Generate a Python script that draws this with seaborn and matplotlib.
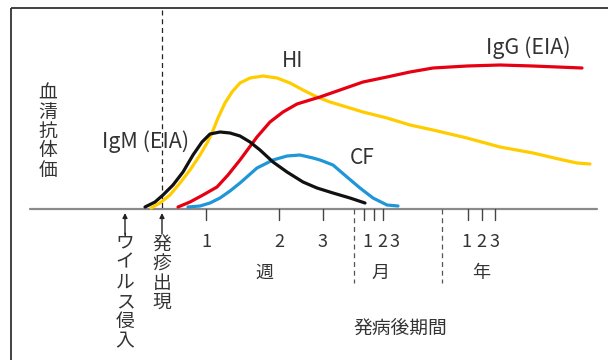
import pandas as pd
import matplotlib
matplotlib.use("Agg")
import matplotlib.pyplot as plt
import seaborn as sns

sns.set_style("white")
plt.rcParams['font.family'] = ['Noto Sans CJK JP', 'DejaVu Sans']

# curve points (x = position along time axis, y = height above baseline)
igm_x = [145, 155, 163, 173, 183, 193, 202, 210, 220, 230, 240, 250, 260, 273, 287, 303, 317, 333, 350, 365]
igm_y = [2, 7, 14, 24, 37, 54, 67, 75, 77, 76, 73, 67, 59, 47, 37, 27, 21, 16, 11, 6]

hi_x = [151, 160, 170, 180, 190, 200, 207, 212, 218, 225, 232, 240, 250, 263, 277, 290, 303, 317, 330, 340,
        363, 387, 410, 433, 467, 500, 533, 563, 577, 590]
hi_y = [1, 6, 14, 26, 39, 54, 66, 76, 91, 106, 117, 126, 131, 133, 131, 126, 119, 112, 107, 104,
        97, 91, 84, 79, 71, 62, 56, 49, 46, 45]

igg_x = [178, 190, 203, 217, 228, 240, 257, 270, 283, 297, 310, 320, 340, 363, 387, 410, 433, 467, 500, 533, 582]
igg_y = [2, 7, 14, 22, 34, 49, 72, 87, 97, 105, 109, 112, 119, 127, 132, 137, 141, 143, 144, 143, 141]

cf_x = [188, 200, 210, 220, 230, 240, 257, 273, 287, 300, 313, 320, 333, 347, 360, 373, 387, 398]
cf_y = [2, 3, 6, 11, 18, 26, 41, 49, 53, 54, 51, 49, 44, 32, 21, 11, 4, 3]

week_ticks = [206, 279, 323]
week_labels = ["1", "2", "3"]
month_ticks = [364, 374, 383]
year_ticks = [468, 482, 495]
small_labels = ["1", "2", "3"]
unit_labels = ["週", "月", "年"]

colors = {"IgM": "#111111", "HI": "#FFCC00", "IgG": "#E60012", "CF": "#1E96D8"}

df = pd.concat([
    pd.DataFrame({"x": hi_x, "y": hi_y, "s": "HI"}),
    pd.DataFrame({"x": igg_x, "y": igg_y, "s": "IgG"}),
    pd.DataFrame({"x": cf_x, "y": cf_y, "s": "CF"}),
    pd.DataFrame({"x": igm_x, "y": igm_y, "s": "IgM"}),
])

fig = plt.figure(figsize=(6.08, 3.6), dpi=100)
ax = fig.add_axes([0, 0, 1, 1])
ax.set_xlim(0, 608)
ax.set_ylim(-151, 209)

txt = "#333333"

# frame
ax.plot([11, 608], [201, 201], color="#333333", lw=1.3, solid_capstyle="butt")
ax.plot([11, 11], [201, -151], color="#333333", lw=1.3, solid_capstyle="butt")

# baseline + onset line
ax.plot([30, 597], [0, 0], color="#8a8a8a", lw=1.6, zorder=1)
ax.plot([162, 162], [199, 0], color="#222222", lw=0.9, ls=(0, (4, 3)), zorder=1)

sns.lineplot(data=df, x="x", y="y", hue="s", palette=colors, sort=False,
             estimator=None, legend=False, lw=2.3, ax=ax, zorder=3)
ax.set_xlim(0, 608)
ax.set_ylim(-151, 209)
ax.axis("off")

# ticks
for t in week_ticks + month_ticks + year_ticks:
    ax.plot([t, t], [0, -11], color="#444444", lw=1.0)
for sep in [354, 442]:
    ax.plot([sep, sep], [0, -74], color="#555555", lw=0.9, ls=(0, (4, 3)))

fs = 13
for t, lab in zip(week_ticks, week_labels):
    ax.text(t, -33, lab, ha="center", va="center", fontsize=fs, color=txt)
for xx, lab in zip([367, 382, 395], small_labels):
    ax.text(xx, -33, lab, ha="center", va="center", fontsize=fs, color=txt)
for xx, lab in zip([466, 481, 494], small_labels):
    ax.text(xx, -33, lab, ha="center", va="center", fontsize=fs, color=txt)
for xx, lab in zip([264, 380, 481], unit_labels):
    ax.text(xx, -64, lab, ha="center", va="center", fontsize=fs, color=txt)

ax.text(400, -120, "発病後期間", ha="center", va="center", fontsize=13.5, color=txt)

# curve labels
ax.text(293, 148, "HI", ha="center", va="center", fontsize=15, color=txt)
ax.text(528, 161, "IgG (EIA)", ha="center", va="center", fontsize=15.5, color=txt)
ax.text(146, 67, "IgM (EIA)", ha="center", va="center", fontsize=15.5, color=txt)
ax.text(362, 51, "CF", ha="center", va="center", fontsize=15, color=txt)

# vertical texts
ax.text(48, 77.5, "\n".join("血清抗体価"), ha="center", va="center",
        fontsize=13.5, color=txt, linespacing=0.9)
ax.text(125, -82.5, "\n".join("ウイルス侵入"), ha="center", va="center",
        fontsize=13.5, color=txt, linespacing=0.93)
ax.text(162, -64.5, "\n".join("発疹出現"), ha="center", va="center",
        fontsize=13.5, color=txt, linespacing=0.9)

for ax_x in [125, 162]:
    ax.annotate("", xy=(ax_x, -4), xytext=(ax_x, -25),
                arrowprops=dict(arrowstyle="-|>", color="#222222", lw=1.0,
                                mutation_scale=7, shrinkA=0, shrinkB=0))

plt.savefig("out.png", dpi=100)
plt.close()
